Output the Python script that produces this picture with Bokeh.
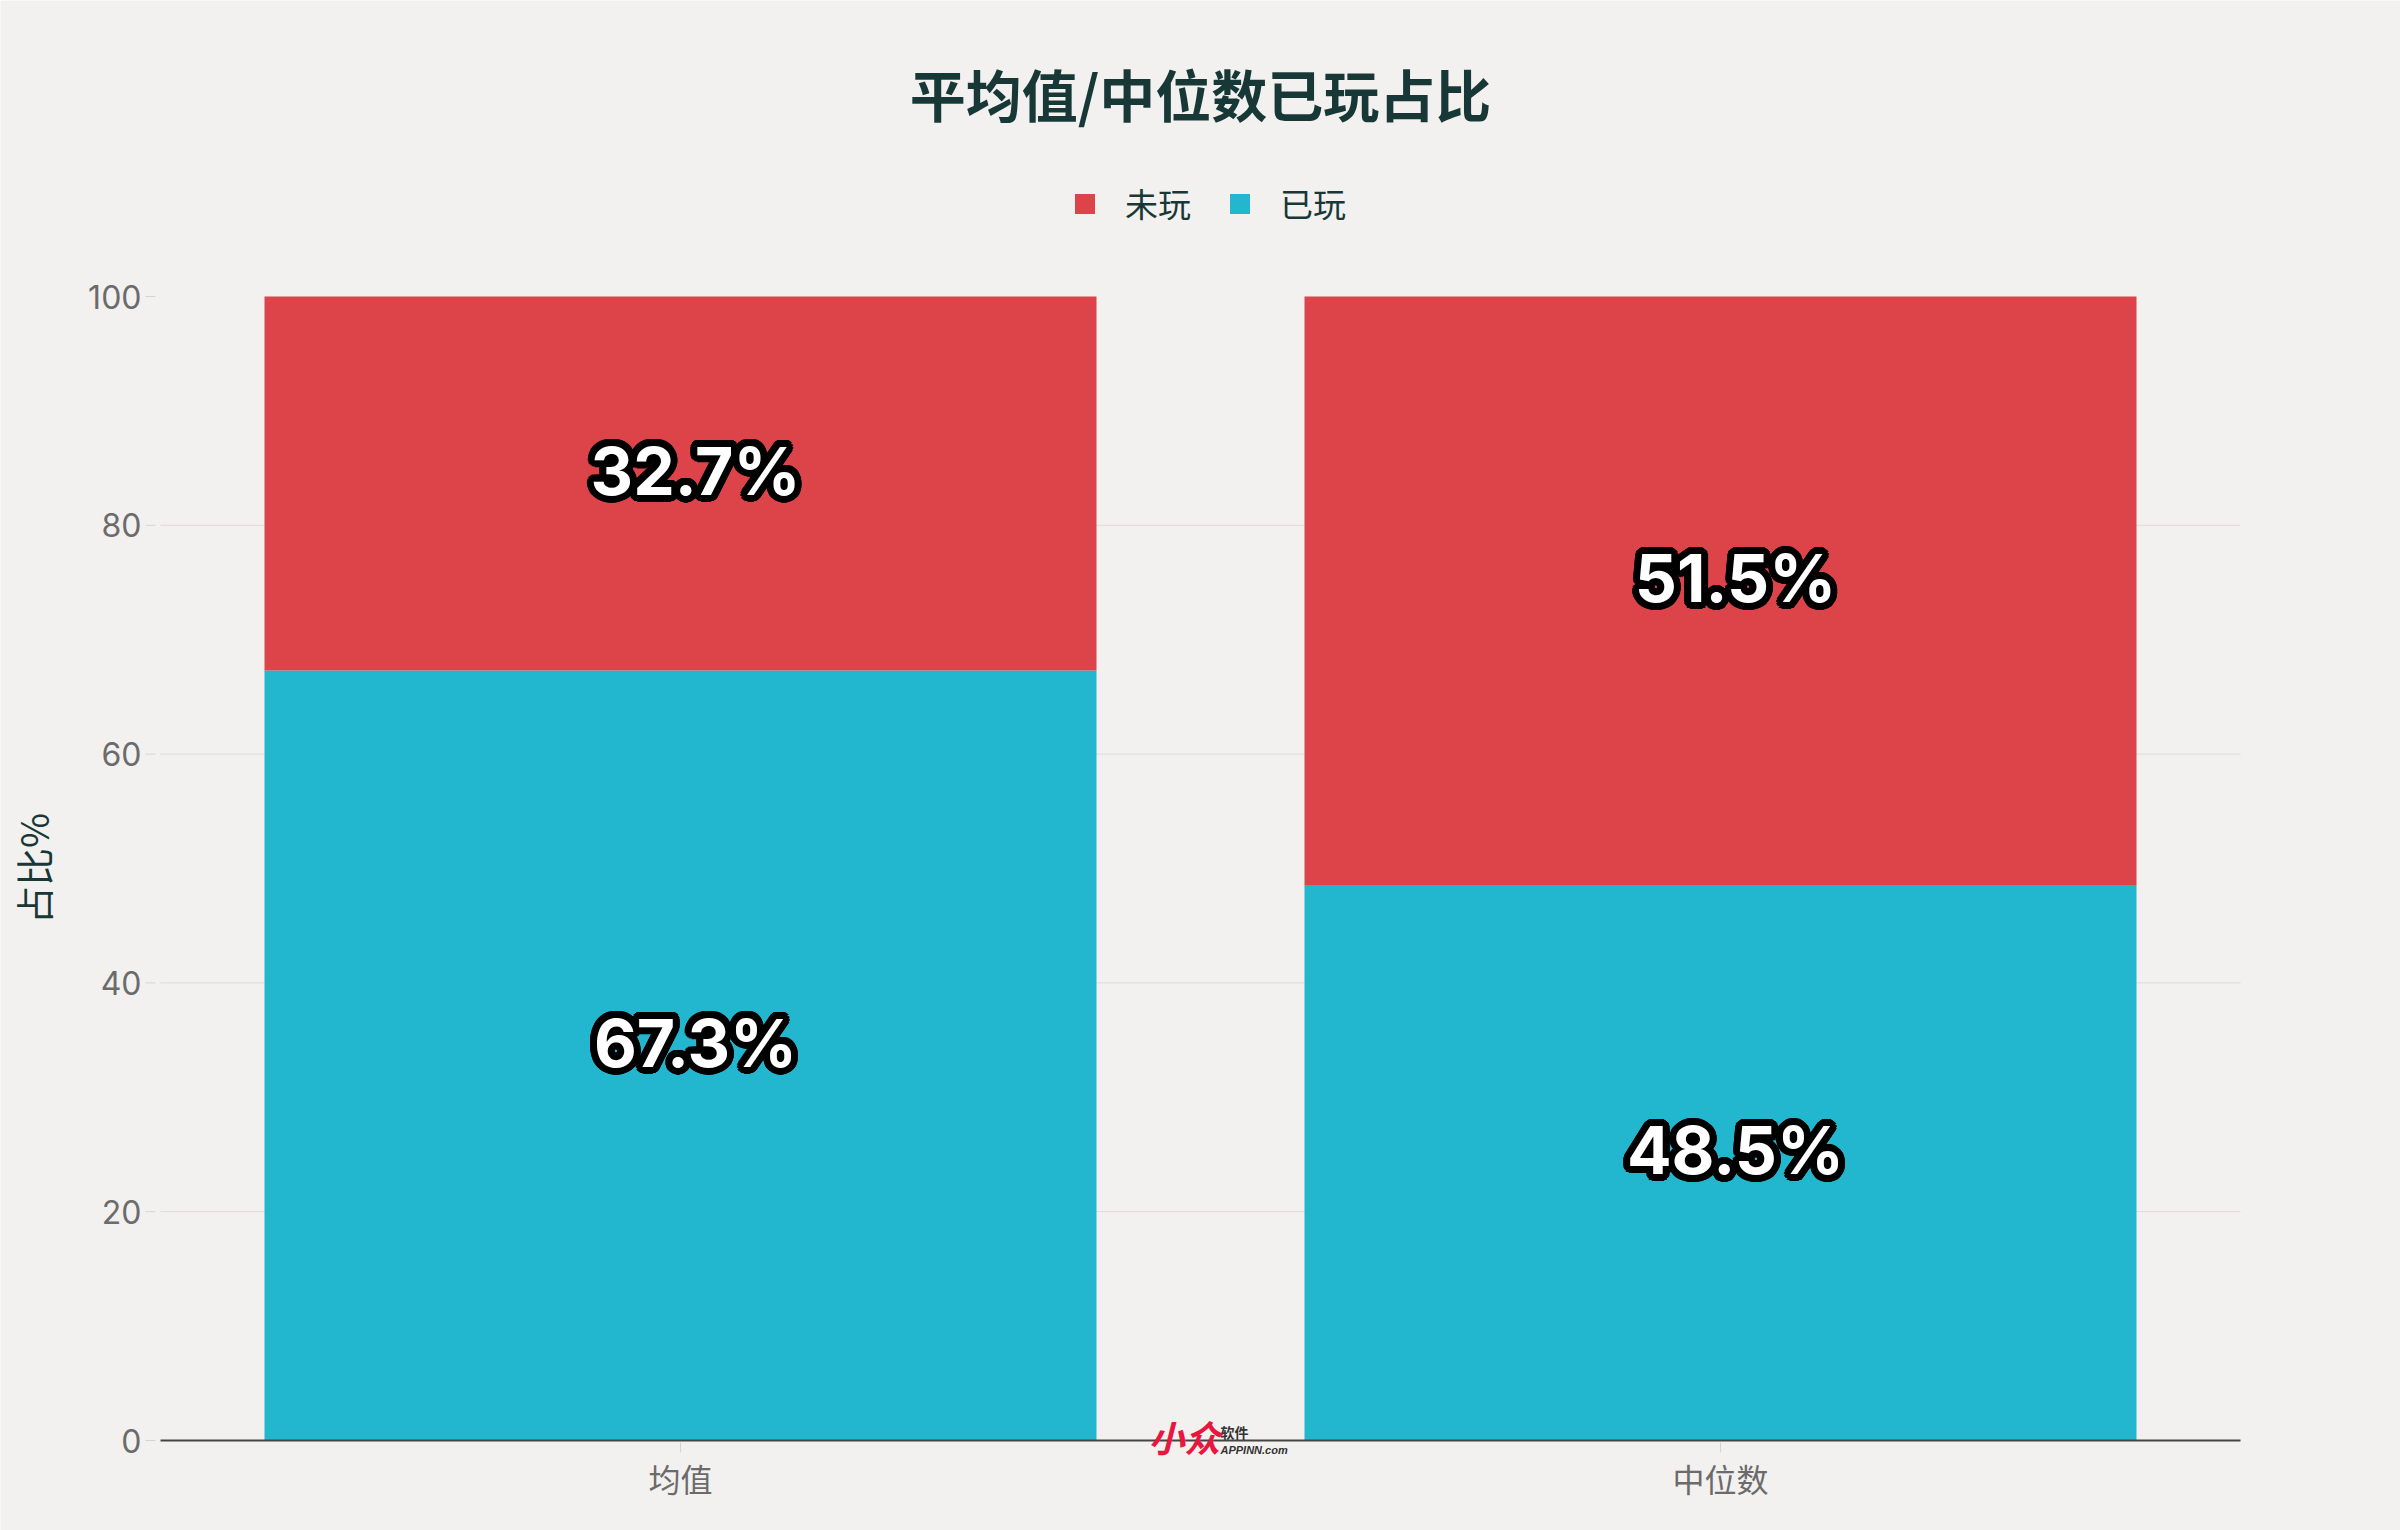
import numpy as np
from bokeh.plotting import figure
from bokeh.models import (ColumnDataSource, FactorRange, Range1d, Label, Legend,
                          LegendItem)
from bokeh.core.properties import value
from bokeh.embed import file_html
from bokeh.resources import INLINE

# ---------------- data ----------------
categories = ["均值", "中位数"]
played = [67.3, 48.5]       # 已玩
unplayed = [32.7, 51.5]     # 未玩
series_names = ["未玩", "已玩"]
y_ticks = [0, 20, 40, 60, 80, 100]
title_text = "平均值/中位数已玩占比"
y_label = "占比%"

# ---------------- style / layout ----------------
BG = "#f3f1ef"
RED = "#dc444a"
BLUE = "#22b6cf"
DARK = "#173836"
GRAY = "#6b6b6b"
TICK = "#d6d4d2"
GRID = "#dcdad8"
CJK = "Noto Sans CJK SC"
NUM = "Inter"

W, H = 2400, 1530
X_L, X_R = 160, 2240           # pixel columns of the plotting area edges
Y100_PX, Y0_PX = 296, 1440     # pixel rows of y = 100 and y = 0
ppx = (X_R - X_L) / len(categories)
ppu = (Y0_PX - Y100_PX) / 100.0


def px(pix):
    """pixel column -> synthetic x"""
    return (pix - X_L) / ppx


def py(pix):
    """pixel row -> data y"""
    return (Y0_PX - pix) / ppu


n = len(categories)
x_range = FactorRange(factors=categories, range_padding=X_L / ppx,
                      range_padding_units="percent")
p = figure(x_range=x_range, y_range=Range1d(py(H), py(0)),
           width=W, height=H, output_backend="svg", toolbar_location=None,
           x_axis_location=None, y_axis_location=None, min_border=0)
p.background_fill_color = BG
p.border_fill_color = BG
p.outline_line_color = None
p.grid.visible = False

# ---------------- grid lines & axes drawn in the plot ----------------
grid_vals = [t for t in y_ticks if 0 < t < 100]
p.segment(x0=[0] * len(grid_vals), x1=[n] * len(grid_vals), y0=grid_vals, y1=grid_vals,
          line_color=GRID, line_width=1)

src = ColumnDataSource(dict(cat=categories, played=played, unplayed=unplayed))
rs = p.vbar_stack(["played", "unplayed"], x="cat", width=0.8, color=[BLUE, RED],
                  line_color=None, source=src)

# x axis line at y = 0
p.segment(x0=[0], x1=[n], y0=[0], y1=[0], line_color="#444444", line_width=2)
p.scatter(x=categories, y=[py(Y0_PX + 7)] * n, marker="dash",
          angle=np.pi / 2, size=10, line_color=TICK, line_width=1)
p.text(x=categories, y=[0] * n, text=categories, y_offset=37,
       text_font=value(CJK), text_font_size="32px", text_color=GRAY,
       text_align="center", text_baseline="middle")

# y axis tick labels / ticks
p.text(x=[0] * len(y_ticks), y=y_ticks, text=[str(t) for t in y_ticks], x_offset=-19,
       text_font=value(NUM), text_font_size="32px", text_color=GRAY,
       text_align="right", text_baseline="middle")
p.scatter(x=[px(X_L - 10)] * len(y_ticks), y=y_ticks, marker="dash", size=10,
          line_color=TICK, line_width=1)
p.text(x=[px(32)], y=[py((Y0_PX + Y100_PX) / 2)], text=[y_label], angle=np.pi / 2,
       text_font=value(CJK), text_font_size="38px", text_color=DARK,
       text_font_style="normal", text_align="center", text_baseline="middle")

# ---------------- value labels with outline ----------------
lx, ly, lt = [], [], []
for i, c in enumerate(categories):
    lx += [c, c]
    ly += [played[i] / 2, played[i] + unplayed[i] / 2]
    lt += [f"{played[i]}%", f"{unplayed[i]}%"]

base_dx, base_dy = 15, -13
ang = np.linspace(0, 2 * np.pi, 28, endpoint=False)
offs = [(7 * np.cos(a), 7 * np.sin(a)) for a in ang] + \
       [(4 * np.cos(a), 4 * np.sin(a)) for a in ang[::3]]
ox, oy, ot, oxo, oyo = [], [], [], [], []
for (dx, dy) in offs:
    ox += lx; oy += ly; ot += lt
    oxo += [base_dx + dx] * len(lx)
    oyo += [base_dy + dy] * len(lx)
outline_src = ColumnDataSource(dict(x=ox, y=oy, t=ot, xo=oxo, yo=oyo))
p.text(x="x", y="y", text="t", x_offset="xo", y_offset="yo", source=outline_src,
       text_font=value(NUM), text_font_style="bold", text_font_size="66px",
       text_color="black", text_align="center", text_baseline="middle")
lab_src = ColumnDataSource(dict(x=lx, y=ly, t=lt, xo=[base_dx] * len(lx),
                                yo=[base_dy] * len(lx)))
p.text(x="x", y="y", text="t", x_offset="xo", y_offset="yo", source=lab_src,
       text_font=value(NUM), text_font_style="bold", text_font_size="66px",
       text_color="white", text_align="center", text_baseline="middle")

# ---------------- legend ----------------
legend = Legend(items=[LegendItem(label=series_names[0], renderers=[rs[1]]),
                       LegendItem(label=series_names[1], renderers=[rs[0]])],
                location=(1072, H - 227), orientation="horizontal",
                glyph_width=25, glyph_height=25, label_text_font_size="33px",
                label_text_font=CJK, label_text_color=DARK, label_standoff=28,
                spacing=36, padding=0, margin=0, border_line_color=None,
                background_fill_alpha=0)
p.add_layout(legend)

# ---------------- title ----------------
p.add_layout(Label(x=n / 2, y=py(92), text=title_text, text_font=CJK,
                   text_font_size="56px", text_font_style="bold", text_color=DARK,
                   text_align="center", text_baseline="middle"))

# ---------------- watermark ----------------
p.add_layout(Label(x=px(1148), y=py(1435), text="小众",
                   text_font=CJK, text_font_size="36px", text_font_style="bold italic",
                   text_color="#e8173f", text_align="left", text_baseline="middle"))
p.add_layout(Label(x=px(1220), y=py(1441), text="软件",
                   text_font=CJK, text_font_size="14px", text_font_style="bold",
                   text_color="#333333", text_align="left", text_baseline="bottom"))
p.add_layout(Label(x=px(1220), y=py(1443), text="APPINN.com",
                   text_font="Liberation Sans", text_font_size="11px",
                   text_font_style="bold italic", text_color="#333333",
                   text_align="left", text_baseline="top"))

open("out.html", "w").write(file_html(p, INLINE))
